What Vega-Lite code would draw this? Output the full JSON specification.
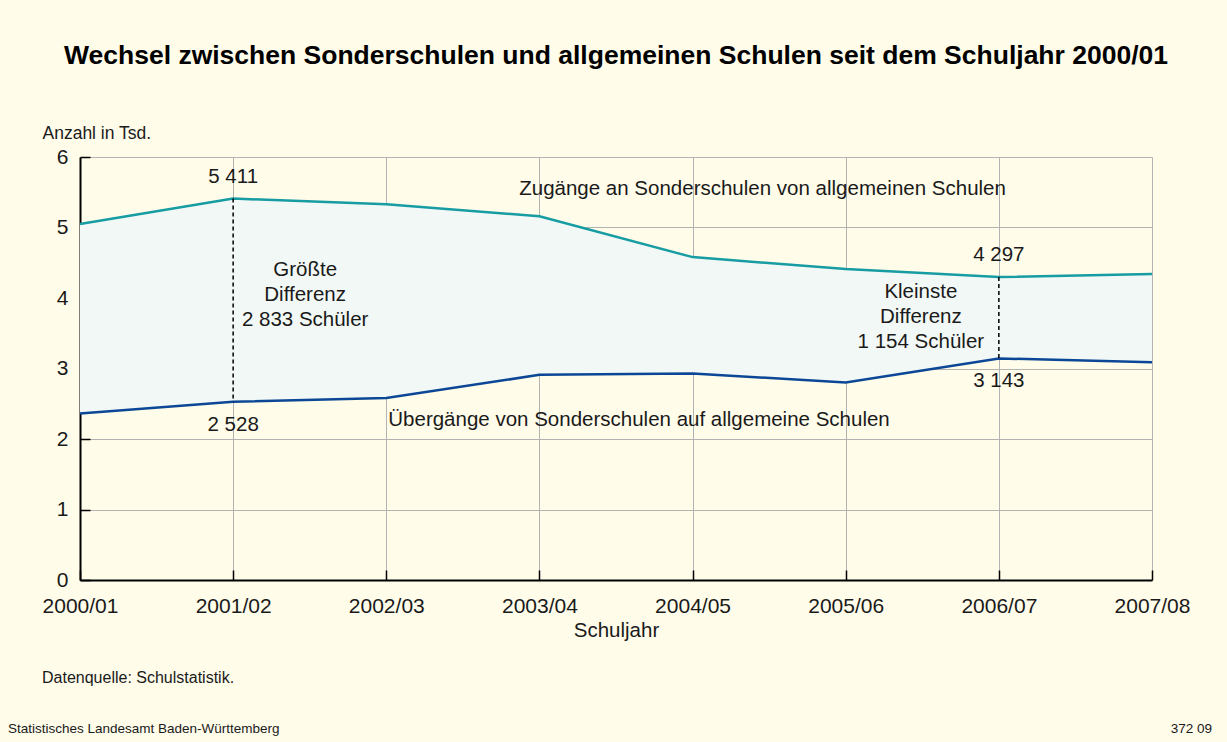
{
  "$schema": "https://vega.github.io/schema/vega-lite/v6.json",
  "autosize": "none",
  "width": 1072,
  "height": 423,
  "padding": {"left": 80, "top": 157, "right": 75, "bottom": 162},
  "background": "#fffcea",
  "title": {
    "text": "Wechsel zwischen Sonderschulen und allgemeinen Schulen seit dem Schuljahr 2000/01",
    "font": "Liberation Sans",
    "fontSize": 26.5,
    "fontWeight": "bold",
    "color": "#000000",
    "anchor": "middle",
    "frame": "group",
    "offset": 55
  },
  "config": {
    "font": "Liberation Sans",
    "view": {"stroke": null},
    "text": {"font": "Liberation Sans", "color": "#1a1a1a"}
  },
  "data": {
    "values": [
      {"Schuljahr": "2000/01", "Zugaenge": 5.05, "Uebergaenge": 2.36},
      {"Schuljahr": "2001/02", "Zugaenge": 5.411, "Uebergaenge": 2.528},
      {"Schuljahr": "2002/03", "Zugaenge": 5.33, "Uebergaenge": 2.58},
      {"Schuljahr": "2003/04", "Zugaenge": 5.16, "Uebergaenge": 2.91},
      {"Schuljahr": "2004/05", "Zugaenge": 4.58, "Uebergaenge": 2.93},
      {"Schuljahr": "2005/06", "Zugaenge": 4.41, "Uebergaenge": 2.80},
      {"Schuljahr": "2006/07", "Zugaenge": 4.297, "Uebergaenge": 3.143},
      {"Schuljahr": "2007/08", "Zugaenge": 4.34, "Uebergaenge": 3.09}
    ]
  },
  "encoding": {
    "x": {
      "field": "Schuljahr",
      "type": "ordinal",
      "scale": {"type": "point", "padding": 0},
      "axis": {
        "title": "Schuljahr",
        "titleFontSize": 20.5,
        "titleFontWeight": "normal",
        "titleColor": "#1a1a1a",
        "titlePadding": 4,
        "labelAngle": 0,
        "labelFontSize": 21,
        "labelColor": "#1a1a1a",
        "labelPadding": 25,
        "labelOverlap": false,
        "labelFlush": false,
        "labelBound": false,
        "domainColor": "#000000",
        "domainWidth": 2,
        "tickColor": "#000000",
        "tickWidth": 1.5,
        "tickSize": -10,
        "grid": true,
        "gridColor": "#b3b3b3",
        "gridWidth": 1
      }
    }
  },
  "layer": [
    {
      "mark": {"type": "area", "color": "#f2f8f5", "opacity": 1},
      "encoding": {
        "y": {
          "field": "Zugaenge",
          "type": "quantitative",
          "scale": {"domain": [0, 6], "nice": false, "zero": false},
          "axis": {
            "values": [0, 1, 2, 3, 4, 5, 6],
            "format": "d",
            "title": "Anzahl in Tsd.",
            "titleAngle": 0,
            "titleAlign": "left",
            "titleBaseline": "middle",
            "titleX": -38,
            "titleY": -24,
            "titleFontSize": 17.5,
            "titleFontWeight": "normal",
            "titleColor": "#1a1a1a",
            "labelFontSize": 21,
            "labelColor": "#1a1a1a",
            "labelPadding": 22,
            "domainColor": "#000000",
            "domainWidth": 2,
            "tickColor": "#000000",
            "tickWidth": 1.5,
            "tickSize": -10,
            "grid": true,
            "gridColor": "#b3b3b3",
            "gridWidth": 1
          }
        },
        "y2": {"field": "Uebergaenge"}
      }
    },
    {
      "mark": {"type": "line", "color": "#169ca2", "strokeWidth": 2.5},
      "encoding": {"y": {"field": "Zugaenge", "type": "quantitative"}}
    },
    {
      "mark": {"type": "line", "color": "#0b4796", "strokeWidth": 2.5},
      "encoding": {"y": {"field": "Uebergaenge", "type": "quantitative"}}
    },
    {
      "transform": [{"filter": "datum.Schuljahr == '2001/02' || datum.Schuljahr == '2006/07'"}],
      "mark": {"type": "rule", "color": "#000000", "strokeWidth": 1.5, "strokeDash": [4, 3]},
      "encoding": {
        "y": {"field": "Zugaenge", "type": "quantitative"},
        "y2": {"field": "Uebergaenge"}
      }
    },
    {
      "data": {"values": [
        {"Schuljahr": "2001/02", "wert": 5.411, "text": "5 411"},
        {"Schuljahr": "2006/07", "wert": 4.297, "text": "4 297"}
      ]},
      "mark": {"type": "text", "fontSize": 20.5, "align": "center", "baseline": "middle", "dy": -22},
      "encoding": {
        "y": {"field": "wert", "type": "quantitative"},
        "text": {"field": "text"}
      }
    },
    {
      "data": {"values": [
        {"Schuljahr": "2001/02", "wert": 2.528, "text": "2 528"},
        {"Schuljahr": "2006/07", "wert": 3.143, "text": "3 143"}
      ]},
      "mark": {"type": "text", "fontSize": 20.5, "align": "center", "baseline": "middle", "dy": 23},
      "encoding": {
        "y": {"field": "wert", "type": "quantitative"},
        "text": {"field": "text"}
      }
    },
    {
      "data": {"values": [
        {"Schuljahr": "2001/02", "y": 4.4, "text": "Größte\nDifferenz\n2 833 Schüler"}
      ]},
      "mark": {"type": "text", "fontSize": 20.5, "align": "center", "baseline": "middle", "dx": 72, "lineBreak": "\n", "lineHeight": 25},
      "encoding": {
        "y": {"field": "y", "type": "quantitative"},
        "text": {"field": "text"}
      }
    },
    {
      "data": {"values": [
        {"Schuljahr": "2006/07", "y": 4.085, "text": "Kleinste\nDifferenz\n1 154 Schüler"}
      ]},
      "mark": {"type": "text", "fontSize": 20.5, "align": "center", "baseline": "middle", "dx": -78, "lineBreak": "\n", "lineHeight": 25},
      "encoding": {
        "y": {"field": "y", "type": "quantitative"},
        "text": {"field": "text"}
      }
    },
    {
      "data": {"values": [
        {"Schuljahr": "2004/05", "y": 5.55, "text": "Zugänge an Sonderschulen von allgemeinen Schulen"}
      ]},
      "mark": {"type": "text", "fontSize": 20.5, "align": "center", "baseline": "middle", "dx": 70},
      "encoding": {
        "y": {"field": "y", "type": "quantitative"},
        "text": {"field": "text"}
      }
    },
    {
      "data": {"values": [
        {"Schuljahr": "2002/03", "y": 2.27, "text": "Übergänge von Sonderschulen auf allgemeine Schulen"}
      ]},
      "mark": {"type": "text", "fontSize": 20.5, "align": "left", "baseline": "middle", "dx": 2},
      "encoding": {
        "y": {"field": "y", "type": "quantitative"},
        "text": {"field": "text"}
      }
    },
    {
      "data": {"values": [
        {"Schuljahr": "2000/01", "y": -1.39, "text": "Datenquelle: Schulstatistik."}
      ]},
      "mark": {"type": "text", "fontSize": 16, "align": "left", "baseline": "middle", "dx": -38},
      "encoding": {
        "y": {"field": "y", "type": "quantitative"},
        "text": {"field": "text"}
      }
    },
    {
      "data": {"values": [
        {"Schuljahr": "2000/01", "y": -2.11, "text": "Statistisches Landesamt Baden-Württemberg"}
      ]},
      "mark": {"type": "text", "fontSize": 13.5, "align": "left", "baseline": "middle", "dx": -72},
      "encoding": {
        "y": {"field": "y", "type": "quantitative"},
        "text": {"field": "text"}
      }
    },
    {
      "data": {"values": [
        {"Schuljahr": "2007/08", "y": -2.11, "text": "372 09"}
      ]},
      "mark": {"type": "text", "fontSize": 13.5, "align": "right", "baseline": "middle", "dx": 60},
      "encoding": {
        "y": {"field": "y", "type": "quantitative"},
        "text": {"field": "text"}
      }
    }
  ]
}
